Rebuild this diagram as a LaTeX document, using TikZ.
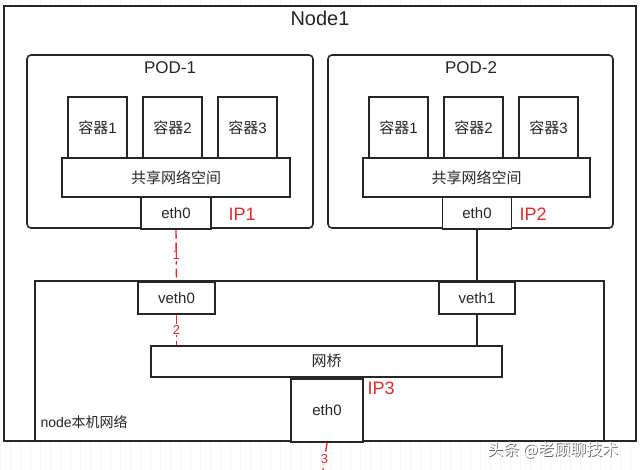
\documentclass[tikz,border=0pt]{standalone}
\usepackage{fontspec}
\setmainfont{Liberation Sans}
\newfontfamily\cjk{Noto Sans CJK SC}
\definecolor{ipred}{RGB}{222,45,45}
\begin{document}
\begin{tikzpicture}[x=1pt,y=-1pt,
  box/.style={draw=black!85,line width=1.6pt,fill=white},
  lbl/.style={font=\fontsize{15}{17}\selectfont,text=black!85},
  iplbl/.style={font=\fontsize{18}{20}\selectfont,text=ipred,anchor=west},
  redlink/.style={draw=ipred,line width=1.4pt,dash pattern=on 9pt off 4pt},
  blklink/.style={draw=black!85,line width=1.5pt},
  numlbl/.style={font=\fontsize{13}{15}\selectfont,text=ipred,fill=white,inner sep=0.8pt}]
\useasboundingbox (0,0) rectangle (640,470);
\fill[white] (0,0) rectangle (640,470);
\draw[black!4,line width=0.4pt] (0,0) grid[step=10] (640,470);
% Node1 outer
\draw[box] (4,6) rectangle (636,441);
\node[font=\fontsize{20}{23}\selectfont,text=black!85] (t) at (320,18) {Node1};
% pods
\draw[box,rounded corners=4pt] (27,55) rectangle (313,228);
\node[font=\fontsize{17}{20}\selectfont,text=black!85] (p1) at (170,68) {POD-1};
\draw[box,rounded corners=4pt] (328,55) rectangle (613,228);
\node[font=\fontsize{17}{20}\selectfont,text=black!85] (p2) at (471,68) {POD-2};
% containers
\foreach \i/\x in {1/97.5,2/172.5,3/247.5}{
  \node[box,minimum width=59pt,minimum height=61pt,lbl,anchor=north] (ca\i) at (\x,96) {{\cjk 容器}\i};
}
\foreach \i/\x in {1/398.5,2/473.5,3/548.5}{
  \node[box,minimum width=59pt,minimum height=61pt,lbl,anchor=north] (cb\i) at (\x,96) {{\cjk 容器}\i};
}
\node[box,minimum width=228pt,minimum height=39pt,lbl,anchor=north] (sa) at (176,157) {\cjk 共享网络空间};
\node[box,minimum width=227pt,minimum height=39pt,lbl,anchor=north] (sb) at (476.5,157) {\cjk 共享网络空间};
\node[box,minimum width=70pt,minimum height=32pt,lbl,anchor=north] (ea) at (176,196) {eth0};
\node[box,minimum width=69pt,minimum height=32pt,lbl,anchor=north] (eb) at (477,196) {eth0};
\node[iplbl] (ip1) at (225,214) {IP1};
\node[iplbl] (ip2) at (516,214) {IP2};
% node network
\draw[box] (35,281) rectangle (604,441);
\node[lbl,anchor=south west,font=\fontsize{14}{16}\selectfont] (nn) at (37,432) {node{\cjk 本机网络}};
\node[box,minimum width=77pt,minimum height=32pt,lbl,anchor=north] (va) at (176.5,281) {veth0};
\node[box,minimum width=76pt,minimum height=32pt,lbl,anchor=north] (vb) at (477,281) {veth1};
\node[box,minimum width=351pt,minimum height=31pt,lbl,anchor=north] (br) at (326.5,345) {\cjk 网桥};
\node[box,minimum width=72pt,minimum height=63pt,lbl,anchor=north] (en) at (327,378) {eth0};
\node[iplbl] (ip3) at (364,388) {IP3};
\coordinate (out) at (323,470);
% links
\draw[redlink] (ea.south) -- (va.north) node[midway,numlbl] (n1) {1};
\draw[blklink] (eb.south) -- (vb.north);
\draw[redlink] (va.south) -- (va.south |- br.north) node[midway,numlbl] (n2) {2};
\draw[blklink] (vb.south) -- (vb.south |- br.north);
\draw[redlink] (en.south) -- (out) node[pos=0.6,numlbl] (n3) {3};
% watermark
\node[font=\fontsize{16}{18}\selectfont\cjk,text=black!60] (wm0) at (553.7,450.7) {头条 @老顾聊技术};
\node[font=\fontsize{16}{18}\selectfont\cjk,text=white] (wm) at (553,450) {头条 @老顾聊技术};
\end{tikzpicture}
\end{document}
